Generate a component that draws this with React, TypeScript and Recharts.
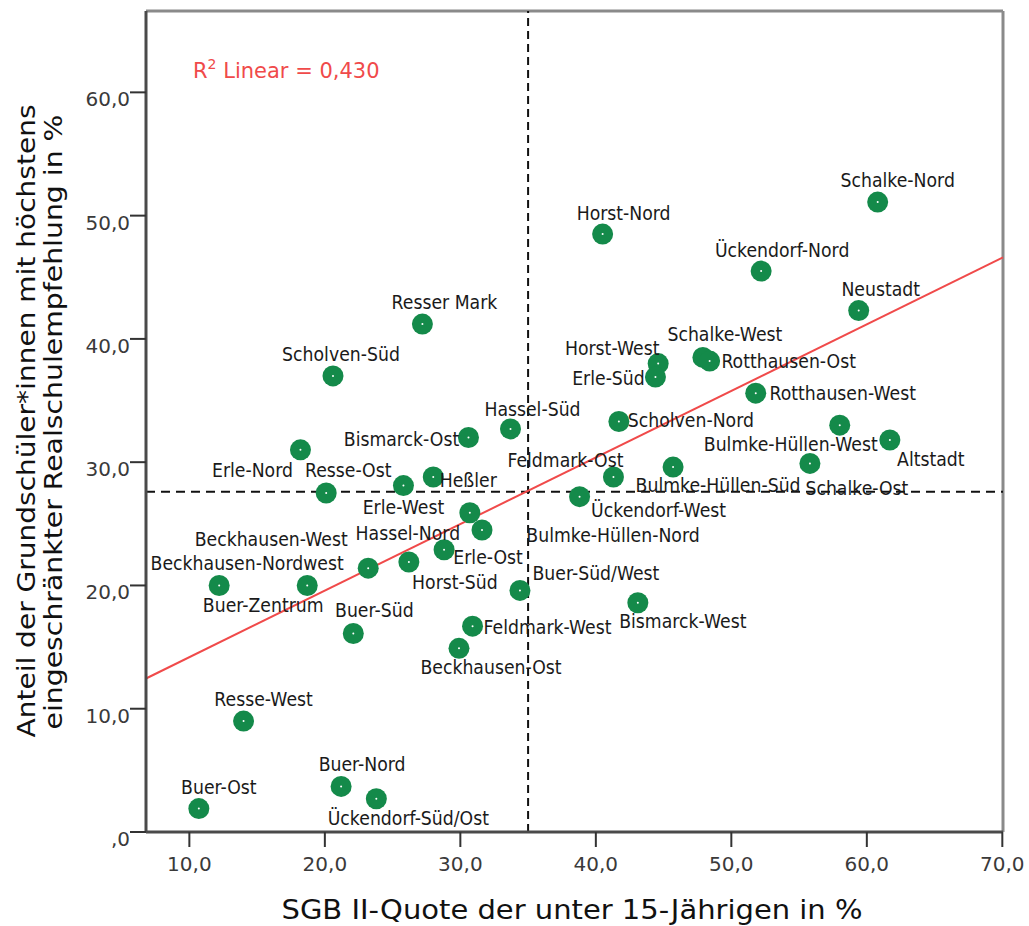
import React from 'react';
import { ScatterChart, Scatter, XAxis, YAxis, ReferenceLine, Customized } from 'recharts';

// Stadtteile (Gelsenkirchen) with SGB II rate of under-15s (x) and share of
// pupils with at most a restricted Realschule recommendation (y)
const districts = [
    'Schalke-Nord', 'Horst-Nord', 'Ückendorf-Nord', 'Neustadt', 'Resser Mark',
    'Scholven-Süd', 'Horst-West', 'Erle-Süd', 'Schalke-West', 'Rotthausen-Ost',
    'Rotthausen-West', 'Scholven-Nord', 'Bulmke-Hüllen-West', 'Altstadt', 'Schalke-Ost',
    'Bulmke-Hüllen-Süd', 'Feldmark-Ost', 'Ückendorf-West', 'Hassel-Süd', 'Bismarck-Ost',
    'Heßler', 'Erle-Nord', 'Resse-Ost', 'Erle-West', 'Hassel-Nord',
    'Bulmke-Hüllen-Nord', 'Erle-Ost', 'Horst-Süd', 'Beckhausen-West', 'Beckhausen-Nordwest',
    'Buer-Zentrum', 'Buer-Süd/West', 'Buer-Süd', 'Feldmark-West', 'Beckhausen-Ost',
    'Bismarck-West', 'Resse-West', 'Buer-Ost', 'Buer-Nord', 'Ückendorf-Süd/Ost',
];

const sgbQuote = [
    60.8, 40.5, 52.2, 59.4, 27.2,
    20.6, 44.6, 44.4, 47.9, 48.4,
    51.8, 41.7, 58.0, 61.7, 55.8,
    45.7, 41.3, 38.8, 33.7, 30.6,
    28.0, 18.2, 20.1, 25.8, 30.7,
    31.6, 28.8, 26.2, 23.2, 12.2,
    18.7, 34.4, 22.1, 30.9, 29.9,
    43.1, 14.0, 10.7, 21.2, 23.8,
];

const lowRecommendation = [
    51.1, 48.5, 45.5, 42.3, 41.2,
    37.0, 38.0, 36.9, 38.5, 38.2,
    35.6, 33.3, 33.0, 31.8, 29.9,
    29.6, 28.8, 27.2, 32.7, 32.0,
    28.8, 31.0, 27.5, 28.1, 25.9,
    24.5, 22.9, 21.9, 21.4, 20.0,
    20.0, 19.6, 16.1, 16.7, 14.9,
    18.6, 9.0, 1.9, 3.7, 2.7,
];

const xTicks = [10, 20, 30, 40, 50, 60, 70];
const yTicks = [0, 10, 20, 30, 40, 50, 60];

// reference lines (means) and linear fit
const meanX = 35.0;
const meanY = 27.6;
const fitIntercept = 8.78;
const fitSlope = 0.54;
const rSquared = '0,430';

const X_DOMAIN: [number, number] = [6.8, 70.05];
const Y_DOMAIN: [number, number] = [0, 66.6];

// where each label sits relative to its dot (px)
const labelOffset: Record<string, [number, number]> = {
    'Schalke-Nord': [20, -22], 'Horst-Nord': [21, -21], 'Ückendorf-Nord': [21, -21],
    'Neustadt': [22, -21], 'Resser Mark': [22, -22], 'Scholven-Süd': [8, -22],
    'Horst-West': [-46, -15], 'Erle-Süd': [-47, 1], 'Schalke-West': [22, -23],
    'Rotthausen-Ost': [79, 0], 'Rotthausen-West': [87, 0], 'Scholven-Nord': [72, -1],
    'Bulmke-Hüllen-West': [-49, 19], 'Altstadt': [41, 19], 'Schalke-Ost': [47, 25],
    'Bulmke-Hüllen-Süd': [45, 18], 'Feldmark-Ost': [-48, -17], 'Ückendorf-West': [79, 14],
    'Hassel-Süd': [22, -20], 'Bismarck-Ost': [-67, 2], 'Heßler': [35, 3],
    'Erle-Nord': [-48, 20], 'Resse-Ost': [22, -23], 'Erle-West': [0, 22],
    'Hassel-Nord': [-62, 20], 'Bulmke-Hüllen-Nord': [131, 5], 'Erle-Ost': [44, 7],
    'Horst-Süd': [46, 20], 'Beckhausen-West': [-97, -29], 'Beckhausen-Nordwest': [28, -22],
    'Buer-Zentrum': [-44, 20], 'Buer-Süd/West': [76, -17], 'Buer-Süd': [21, -23],
    'Feldmark-West': [75, 1], 'Beckhausen-Ost': [32, 19], 'Bismarck-West': [45, 18],
    'Resse-West': [20, -22], 'Buer-Ost': [20, -21], 'Buer-Nord': [21, -22],
    'Ückendorf-Süd/Ost': [32, 19],
};

const data = districts.map((name, i) => ({ name, x: sgbQuote[i], y: lowRecommendation[i] }));
const fitSegment = X_DOMAIN.map((x) => ({ x, y: fitIntercept + fitSlope * x }));

const FONT = '"DejaVu Sans", Verdana, sans-serif';
const fmt = (v: number) => (v === 0 ? ',0' : v.toFixed(1).replace('.', ','));

const Dot = (props: any) => {
    const { cx, cy } = props;
    return (
        <g>
            <circle cx={cx} cy={cy} r={10.5} fill="#148a4a" />
            <circle cx={cx} cy={cy} r={1} fill="#ffffff" />
        </g>
    );
};

const DotLabel = (props: any) => {
    const { cx, cy, payload } = props;
    const [dx, dy] = labelOffset[payload.name] || [20, -21];
    return (
        <text
            transform={`translate(${cx + dx},${cy + dy}) scale(0.91,1)`}
            textAnchor="middle"
            dominantBaseline="central"
            fontFamily={FONT}
            fontSize={19}
            fill="#1a1a1a"
        >
            {payload.name}
        </text>
    );
};

const XTick = (props: any) => {
    const { x, payload } = props;
    return (
        <text x={x} y={871} textAnchor="middle" fontFamily={FONT} fontSize={20} fill="#3a3a3a">
            {fmt(payload.value)}
        </text>
    );
};

const YTick = (props: any) => {
    const { x, y, payload } = props;
    return (
        <text x={x} y={y + 14} textAnchor="end" fontFamily={FONT} fontSize={20} fill="#3a3a3a">
            {fmt(payload.value)}
        </text>
    );
};

const Titles = () => (
    <g fontFamily={FONT} fill="#111">
        <text x={572} y={919} textAnchor="middle" fontSize={26} textLength={581} lengthAdjust="spacingAndGlyphs">
            SGB II-Quote der unter 15-Jährigen in %
        </text>
        <text transform="translate(35,421) rotate(-90)" textAnchor="middle" fontSize={25} textLength={633} lengthAdjust="spacingAndGlyphs">
            Anteil der Grundschüler*innen mit höchstens
        </text>
        <text transform="translate(62,422) rotate(-90)" textAnchor="middle" fontSize={25} textLength={615} lengthAdjust="spacingAndGlyphs">
            eingeschränkter Realschulempfehlung in %
        </text>
        <text x={193} y={78} fontSize={21} fill="#f04a4a">
            R<tspan dy={-9} fontSize={14}>2</tspan>
            <tspan dy={9}>{` Linear = ${rSquared}`}</tspan>
        </text>
    </g>
);

export default function App() {
    return (
        <div style={{ position: 'absolute', left: 0, top: 0, background: '#fff' }}>
            <ScatterChart width={1029} height={926} margin={{ top: 11, right: 26, bottom: 0, left: 0 }}>
                <XAxis
                    type="number"
                    dataKey="x"
                    domain={X_DOMAIN}
                    ticks={xTicks}
                    allowDataOverflow
                    height={94}
                    tickSize={15}
                    axisLine={{ stroke: '#4a4a4a', strokeWidth: 3 }}
                    tickLine={{ stroke: '#333', strokeWidth: 2 }}
                    tick={<XTick />}
                />
                <YAxis
                    type="number"
                    dataKey="y"
                    domain={Y_DOMAIN}
                    ticks={yTicks}
                    allowDataOverflow
                    width={146}
                    tickSize={16}
                    tickMargin={0}
                    axisLine={{ stroke: '#4a4a4a', strokeWidth: 3 }}
                    tickLine={{ stroke: '#333', strokeWidth: 2 }}
                    tick={<YTick />}
                />
                <ReferenceLine y={Y_DOMAIN[1]} stroke="#8a8a8a" strokeWidth={3} />
                <ReferenceLine x={X_DOMAIN[1]} stroke="#8a8a8a" strokeWidth={3} />
                <ReferenceLine x={meanX} stroke="#111" strokeWidth={2} strokeDasharray="8 5" />
                <ReferenceLine y={meanY} stroke="#111" strokeWidth={2} strokeDasharray="9 6" />
                <ReferenceLine segment={fitSegment} stroke="#f04a4a" strokeWidth={2} />
                <Scatter data={data} shape={<Dot />} isAnimationActive={false} />
                <Scatter data={data} shape={<DotLabel />} isAnimationActive={false} />
                <Customized component={Titles} />
            </ScatterChart>
        </div>
    );
}
